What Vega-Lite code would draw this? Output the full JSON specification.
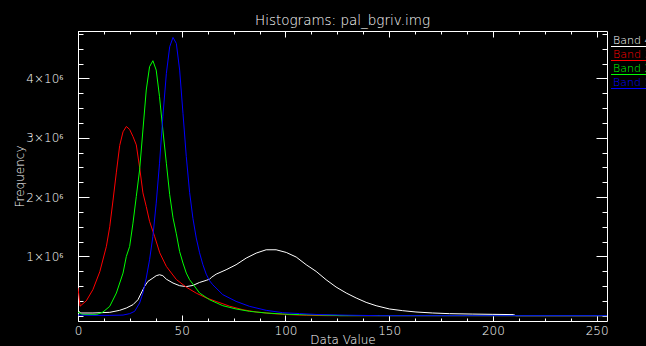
{
  "$schema": "https://vega.github.io/schema/vega-lite/v6.json",
  "width": 529,
  "height": 290,
  "autosize": {"type": "none"},
  "padding": {"left": 78, "top": 31, "right": 39, "bottom": 25},
  "background": "black",
  "title": {"text": "Histograms: pal_bgriv.img", "color": "#ffffff", "font": "DejaVu Sans", "fontSize": 13.5, "fontWeight": 200, "anchor": "middle", "frame": "group", "offset": 3},
  "config": {
    "view": {"stroke": "white", "strokeWidth": 1},
    "axis": {"domain": false, "grid": false, "tickColor": "white", "tickWidth": 1, "labelColor": "#ffffff", "labelFont": "DejaVu Sans", "labelFontSize": 12, "labelFontWeight": 200, "titleColor": "#ffffff", "titleFont": "DejaVu Sans", "titleFontSize": 12, "titleFontWeight": 200, "labelFlush": false, "labelOverlap": false, "labelBound": false}
  },
  "data": {"values": [
    {"band": "Band 4", "value": 0, "freq": 100000},
    {"band": "Band 4", "value": 1, "freq": 45000},
    {"band": "Band 4", "value": 7.2, "freq": 45000},
    {"band": "Band 4", "value": 15.3, "freq": 56000},
    {"band": "Band 4", "value": 20.1, "freq": 90000},
    {"band": "Band 4", "value": 23.3, "freq": 129000},
    {"band": "Band 4", "value": 26.5, "freq": 185000},
    {"band": "Band 4", "value": 28.9, "freq": 269000},
    {"band": "Band 4", "value": 30.5, "freq": 382000},
    {"band": "Band 4", "value": 32.1, "freq": 494000},
    {"band": "Band 4", "value": 33.7, "freq": 578000},
    {"band": "Band 4", "value": 36.1, "freq": 634000},
    {"band": "Band 4", "value": 37.7, "freq": 674000},
    {"band": "Band 4", "value": 39.3, "freq": 690000},
    {"band": "Band 4", "value": 40.9, "freq": 674000},
    {"band": "Band 4", "value": 42.6, "freq": 615000},
    {"band": "Band 4", "value": 45.8, "freq": 550000},
    {"band": "Band 4", "value": 49, "freq": 505000},
    {"band": "Band 4", "value": 52.2, "freq": 490000},
    {"band": "Band 4", "value": 55.4, "freq": 510000},
    {"band": "Band 4", "value": 58.6, "freq": 560000},
    {"band": "Band 4", "value": 61.8, "freq": 595000},
    {"band": "Band 4", "value": 63.4, "freq": 615000},
    {"band": "Band 4", "value": 64.5, "freq": 650000},
    {"band": "Band 4", "value": 66.6, "freq": 700000},
    {"band": "Band 4", "value": 71.4, "freq": 774000},
    {"band": "Band 4", "value": 76.2, "freq": 859000},
    {"band": "Band 4", "value": 81.1, "freq": 971000},
    {"band": "Band 4", "value": 85.9, "freq": 1055000},
    {"band": "Band 4", "value": 90.7, "freq": 1111000},
    {"band": "Band 4", "value": 95.5, "freq": 1111000},
    {"band": "Band 4", "value": 100.4, "freq": 1066000},
    {"band": "Band 4", "value": 105.2, "freq": 988000},
    {"band": "Band 4", "value": 110, "freq": 859000},
    {"band": "Band 4", "value": 114.8, "freq": 746000},
    {"band": "Band 4", "value": 119.6, "freq": 606000},
    {"band": "Band 4", "value": 124.4, "freq": 483000},
    {"band": "Band 4", "value": 129.3, "freq": 382000},
    {"band": "Band 4", "value": 134.1, "freq": 298000},
    {"band": "Band 4", "value": 138.9, "freq": 224000},
    {"band": "Band 4", "value": 143.7, "freq": 168000},
    {"band": "Band 4", "value": 150.1, "freq": 113000},
    {"band": "Band 4", "value": 156.5, "freq": 84000},
    {"band": "Band 4", "value": 162.9, "freq": 62000},
    {"band": "Band 4", "value": 171, "freq": 45000},
    {"band": "Band 4", "value": 179, "freq": 34000},
    {"band": "Band 4", "value": 190, "freq": 27000},
    {"band": "Band 4", "value": 200, "freq": 22000},
    {"band": "Band 4", "value": 210, "freq": 18000},
    {"band": "Band 4", "value": 211, "freq": 0},
    {"band": "Band 4", "value": 255, "freq": 0},

    {"band": "Band 3", "value": 0, "freq": 470000},
    {"band": "Band 3", "value": 1, "freq": 160000},
    {"band": "Band 3", "value": 4, "freq": 250000},
    {"band": "Band 3", "value": 7.2, "freq": 440000},
    {"band": "Band 3", "value": 10.5, "freq": 740000},
    {"band": "Band 3", "value": 13.7, "freq": 1170000},
    {"band": "Band 3", "value": 15.3, "freq": 1500000},
    {"band": "Band 3", "value": 16.9, "freq": 1950000},
    {"band": "Band 3", "value": 18.5, "freq": 2420000},
    {"band": "Band 3", "value": 20.1, "freq": 2870000},
    {"band": "Band 3", "value": 21.7, "freq": 3100000},
    {"band": "Band 3", "value": 23.3, "freq": 3190000},
    {"band": "Band 3", "value": 24.9, "freq": 3140000},
    {"band": "Band 3", "value": 26.5, "freq": 3020000},
    {"band": "Band 3", "value": 28.1, "freq": 2880000},
    {"band": "Band 3", "value": 29.7, "freq": 2500000},
    {"band": "Band 3", "value": 31.3, "freq": 2070000},
    {"band": "Band 3", "value": 32.9, "freq": 1840000},
    {"band": "Band 3", "value": 34.5, "freq": 1590000},
    {"band": "Band 3", "value": 36.9, "freq": 1340000},
    {"band": "Band 3", "value": 39.4, "freq": 1060000},
    {"band": "Band 3", "value": 42.6, "freq": 830000},
    {"band": "Band 3", "value": 47.4, "freq": 610000},
    {"band": "Band 3", "value": 52.2, "freq": 480000},
    {"band": "Band 3", "value": 57, "freq": 380000},
    {"band": "Band 3", "value": 61.8, "freq": 300000},
    {"band": "Band 3", "value": 66.6, "freq": 240000},
    {"band": "Band 3", "value": 73.1, "freq": 160000},
    {"band": "Band 3", "value": 79.5, "freq": 100000},
    {"band": "Band 3", "value": 85.9, "freq": 62000},
    {"band": "Band 3", "value": 93.9, "freq": 34000},
    {"band": "Band 3", "value": 101.9, "freq": 17000},
    {"band": "Band 3", "value": 110, "freq": 6000},
    {"band": "Band 3", "value": 120, "freq": 0},
    {"band": "Band 3", "value": 255, "freq": 0},

    {"band": "Band 2", "value": 0, "freq": 60000},
    {"band": "Band 2", "value": 2, "freq": 20000},
    {"band": "Band 2", "value": 8.8, "freq": 17000},
    {"band": "Band 2", "value": 12, "freq": 60000},
    {"band": "Band 2", "value": 15.3, "freq": 157000},
    {"band": "Band 2", "value": 18.5, "freq": 382000},
    {"band": "Band 2", "value": 21.7, "freq": 718000},
    {"band": "Band 2", "value": 23.3, "freq": 999000},
    {"band": "Band 2", "value": 24.9, "freq": 1167000},
    {"band": "Band 2", "value": 26.5, "freq": 1560000},
    {"band": "Band 2", "value": 28.1, "freq": 2009000},
    {"band": "Band 2", "value": 29.7, "freq": 2458000},
    {"band": "Band 2", "value": 31.3, "freq": 3131000},
    {"band": "Band 2", "value": 32.9, "freq": 3805000},
    {"band": "Band 2", "value": 34.5, "freq": 4198000},
    {"band": "Band 2", "value": 36.1, "freq": 4299000},
    {"band": "Band 2", "value": 37.7, "freq": 4141000},
    {"band": "Band 2", "value": 39.3, "freq": 3693000},
    {"band": "Band 2", "value": 40.9, "freq": 3131000},
    {"band": "Band 2", "value": 42.6, "freq": 2570000},
    {"band": "Band 2", "value": 44.2, "freq": 2040000},
    {"band": "Band 2", "value": 45.8, "freq": 1650000},
    {"band": "Band 2", "value": 47.4, "freq": 1380000},
    {"band": "Band 2", "value": 49, "freq": 1080000},
    {"band": "Band 2", "value": 50.6, "freq": 887000},
    {"band": "Band 2", "value": 52.2, "freq": 718000},
    {"band": "Band 2", "value": 53.8, "freq": 606000},
    {"band": "Band 2", "value": 58.6, "freq": 382000},
    {"band": "Band 2", "value": 63.4, "freq": 269000},
    {"band": "Band 2", "value": 69.8, "freq": 168000},
    {"band": "Band 2", "value": 76.2, "freq": 113000},
    {"band": "Band 2", "value": 82.7, "freq": 73000},
    {"band": "Band 2", "value": 90.7, "freq": 45000},
    {"band": "Band 2", "value": 98.7, "freq": 28000},
    {"band": "Band 2", "value": 106.8, "freq": 17000},
    {"band": "Band 2", "value": 124.4, "freq": 5000},
    {"band": "Band 2", "value": 126, "freq": 0},
    {"band": "Band 2", "value": 255, "freq": 0},

    {"band": "Band 1", "value": 0, "freq": 10000},
    {"band": "Band 1", "value": 7.2, "freq": 5000},
    {"band": "Band 1", "value": 15.3, "freq": 5000},
    {"band": "Band 1", "value": 21.7, "freq": 10000},
    {"band": "Band 1", "value": 24.9, "freq": 34000},
    {"band": "Band 1", "value": 27.3, "freq": 73000},
    {"band": "Band 1", "value": 29.7, "freq": 213000},
    {"band": "Band 1", "value": 31.3, "freq": 382000},
    {"band": "Band 1", "value": 32.9, "freq": 634000},
    {"band": "Band 1", "value": 34.5, "freq": 943000},
    {"band": "Band 1", "value": 36.1, "freq": 1336000},
    {"band": "Band 1", "value": 37.7, "freq": 1897000},
    {"band": "Band 1", "value": 39.3, "freq": 2570000},
    {"band": "Band 1", "value": 40.9, "freq": 3356000},
    {"band": "Band 1", "value": 42.6, "freq": 4085000},
    {"band": "Band 1", "value": 44.2, "freq": 4534000},
    {"band": "Band 1", "value": 45.8, "freq": 4691000},
    {"band": "Band 1", "value": 47.4, "freq": 4590000},
    {"band": "Band 1", "value": 49, "freq": 4141000},
    {"band": "Band 1", "value": 50.6, "freq": 3412000},
    {"band": "Band 1", "value": 52.2, "freq": 2682000},
    {"band": "Band 1", "value": 53.8, "freq": 2080000},
    {"band": "Band 1", "value": 55.4, "freq": 1640000},
    {"band": "Band 1", "value": 57, "freq": 1310000},
    {"band": "Band 1", "value": 58.6, "freq": 1060000},
    {"band": "Band 1", "value": 60.2, "freq": 860000},
    {"band": "Band 1", "value": 61.8, "freq": 700000},
    {"band": "Band 1", "value": 63.4, "freq": 590000},
    {"band": "Band 1", "value": 65, "freq": 520000},
    {"band": "Band 1", "value": 69.8, "freq": 354000},
    {"band": "Band 1", "value": 76.2, "freq": 241000},
    {"band": "Band 1", "value": 82.7, "freq": 157000},
    {"band": "Band 1", "value": 90.7, "freq": 90000},
    {"band": "Band 1", "value": 98.7, "freq": 50000},
    {"band": "Band 1", "value": 106.8, "freq": 35000},
    {"band": "Band 1", "value": 115, "freq": 20000},
    {"band": "Band 1", "value": 130, "freq": 8000},
    {"band": "Band 1", "value": 145, "freq": 0},
    {"band": "Band 1", "value": 255, "freq": 0}
  ]},
  "layer": [
    {
      "mark": {"type": "line", "strokeWidth": 1, "interpolate": "linear", "clip": true},
      "encoding": {
        "x": {"field": "value", "type": "quantitative", "scale": {"domain": [0, 255], "nice": false, "zero": false},
              "axis": {"orient": "bottom", "values": [0, 50, 100, 150, 200, 250], "tickSize": -6, "labelPadding": 10, "title": "Data Value", "titlePadding": -2}},
        "y": {"field": "freq", "type": "quantitative", "scale": {"domain": [-90000, 4800000], "nice": false, "zero": false},
              "axis": {"orient": "left", "values": [1000000, 2000000, 3000000, 4000000], "tickSize": -11, "labelPadding": 26, "labelExpr": "(datum.value / 1000000) + '×10⁶'", "title": "Frequency", "titlePadding": -1}},
        "color": {"field": "band", "type": "nominal",
                  "scale": {"domain": ["Band 4", "Band 3", "Band 2", "Band 1"], "range": ["#ffffff", "#ff0000", "#00ff00", "#0000ff"]},
                  "legend": {"orient": "none", "legendX": 523, "legendY": 4, "title": null, "padding": 0,
                             "symbolType": "M 4.5 6 H 40", "symbolSize": 4, "symbolStrokeWidth": 1,
                             "labelFont": "DejaVu Sans", "labelFontSize": 11, "labelFontWeight": 200, "labelOffset": 1, "rowPadding": -1.3,
                             "encode": {"labels": {"update": {"fill": {"scale": "color", "field": "value"}}}}}}
      }
    },
    {
      "mark": {"type": "line", "opacity": 0},
      "encoding": {
        "x": {"field": "value", "type": "quantitative", "axis": {"orient": "bottom", "values": [0, 12.5, 25, 37.5, 50, 62.5, 75, 87.5, 100, 112.5, 125, 137.5, 150, 162.5, 175, 187.5, 200, 212.5, 225, 237.5, 250], "tickSize": -3, "labels": false, "title": null}},
        "y": {"field": "freq", "type": "quantitative", "axis": {"orient": "left", "values": [0, 250000, 500000, 750000, 1000000, 1250000, 1500000, 1750000, 2000000, 2250000, 2500000, 2750000, 3000000, 3250000, 3500000, 3750000, 4000000, 4250000, 4500000, 4750000], "tickSize": -5, "labels": false, "title": null}}
      }
    },
    {
      "mark": {"type": "line", "opacity": 0},
      "encoding": {
        "x": {"field": "value", "type": "quantitative", "axis": {"orient": "top", "values": [0, 50, 100, 150, 200, 250], "tickSize": -6, "labels": false, "title": null}},
        "y": {"field": "freq", "type": "quantitative", "axis": {"orient": "right", "values": [1000000, 2000000, 3000000, 4000000], "tickSize": -11, "labels": false, "title": null}}
      }
    },
    {
      "mark": {"type": "line", "opacity": 0},
      "encoding": {
        "x": {"field": "value", "type": "quantitative", "axis": {"orient": "top", "values": [0, 12.5, 25, 37.5, 50, 62.5, 75, 87.5, 100, 112.5, 125, 137.5, 150, 162.5, 175, 187.5, 200, 212.5, 225, 237.5, 250], "tickSize": -3, "labels": false, "title": null}},
        "y": {"field": "freq", "type": "quantitative", "axis": {"orient": "right", "values": [0, 250000, 500000, 750000, 1000000, 1250000, 1500000, 1750000, 2000000, 2250000, 2500000, 2750000, 3000000, 3250000, 3500000, 3750000, 4000000, 4250000, 4500000, 4750000], "tickSize": -5, "labels": false, "title": null}}
      }
    }
  ],
  "resolve": {"axis": {"x": "independent", "y": "independent"}}
}
